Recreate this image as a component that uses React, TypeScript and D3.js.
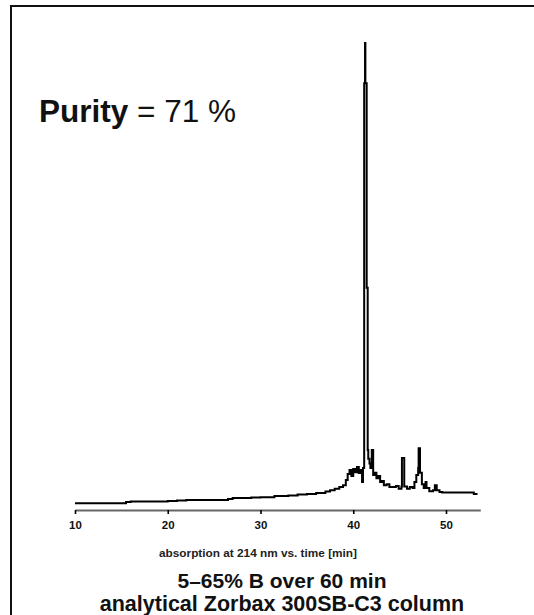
import React, { useEffect, useRef } from "react";
import * as d3 from "d3";

// Retention time (min) and absorbance (arbitrary units)
const times: number[] = [
  10.0, 11.0, 15.5, 16.0, 20.0, 21.0, 22.0, 24.0, 26.5, 27.0, 29.0, 30.0, 31.5, 33.0, 34.0, 35.0,
  36.0, 37.0, 37.5, 38.0, 38.5, 38.9, 39.2, 39.4, 39.6, 39.8, 40.0, 40.2, 40.4, 40.6, 40.8, 40.95,
  41.05, 41.18, 41.27, 41.31, 41.45, 41.56, 41.62, 41.75, 41.85, 42.0, 42.1, 42.15, 42.3,
  42.5, 42.7, 42.9, 43.1, 43.3, 43.6, 43.9, 44.3, 44.6, 44.9, 45.2, 45.25, 45.45, 45.5, 45.8, 46.1,
  46.4, 46.6, 46.8, 47.0, 47.05, 47.2, 47.4, 47.6, 47.8, 47.9, 48.2, 48.6, 48.8, 49.0, 49.3, 49.6,
  53.0, 53.4,
];
const absorbance: number[] = [
  4, 4, 6.5, 7.6, 8.7, 9.7, 10.8, 11, 13, 15, 16, 17, 19.5, 20.5, 22.7, 24,
  26, 29, 32, 35, 39, 43, 54, 67, 76, 63, 78, 71, 82, 69, 76, 50,
  80, 913, 1000, 913, 470, 119, 100, 90, 80, 119, 119, 65, 70,
  58, 63, 50, 52, 43, 45, 39, 39, 41, 35, 40, 102, 102, 40, 35, 39,
  37, 50, 65, 80, 123, 70, 45, 37, 50, 37, 30, 32, 43, 32, 28, 27,
  24, 24,
];
const tickValues: number[] = [10, 20, 30, 40, 50];

const purityLabel = "Purity";
const purityValue = " = 71 %";
const axisTitle = "absorption at 214 nm vs. time [min]";
const titleLine1 = "5–65% B over 60 min";
const titleLine2 = "analytical Zorbax 300SB-C3 column";

const W = 534;
const H = 615;

export default function App() {
  const axisRef = useRef<SVGGElement>(null);

  const x = d3.scaleLinear().domain([10, 53.7]).range([75, 480.3]);
  const y = d3.scaleLinear().domain([0, 1000]).range([505, 43]);

  const data = times.map((t, i) => [t, absorbance[i]] as [number, number]);
  const line = d3
    .line<[number, number]>()
    .x((d) => x(d[0]))
    .y((d) => y(d[1]))
    .curve(d3.curveStepAfter);

  useEffect(() => {
    if (!axisRef.current) return;
    const g = d3.select(axisRef.current);
    g.selectAll("*").remove();
    const axis = d3
      .axisBottom(x)
      .tickValues(tickValues)
      .tickSize(4)
      .tickSizeOuter(0)
      .tickPadding(7)
      .tickFormat(d3.format("d"));
    g.call(axis as any);
    g.select(".domain").attr("stroke", "#666").attr("stroke-width", 2);
    g.selectAll(".tick line").attr("stroke", "#000").attr("stroke-width", 1.6);
    g.selectAll(".tick text")
      .attr("font-family", "'Liberation Sans', Arial, sans-serif")
      .attr("font-weight", "bold")
      .attr("font-size", 11.5)
      .attr("fill", "#111");
  }, []);

  const font = "'Liberation Sans', Arial, Helvetica, sans-serif";

  return (
    <svg
      width={W}
      height={H}
      style={{ position: "absolute", left: 0, top: 0, background: "#fff" }}
    >
      <rect x={11} y={6} width={W + 20} height={H + 20} fill="#fff" stroke="#111" strokeWidth={2} />
      <text x={39} y={122} fontFamily={font} fontSize={31.5} fill="#111">
        <tspan fontWeight="bold">{purityLabel}</tspan>
        <tspan>{purityValue}</tspan>
      </text>
      <path d={line(data) || ""} fill="none" stroke="#000" strokeWidth={2} strokeLinejoin="miter" />
      <g ref={axisRef} transform="translate(0,510)" />
      <text x={258} y={557} textAnchor="middle" fontFamily={font} fontWeight="bold" fontSize={11.8} fill="#222">
        {axisTitle}
      </text>
      <text x={282} y={588} textAnchor="middle" fontFamily={font} fontWeight="bold" fontSize={21} fill="#111">
        {titleLine1}
      </text>
      <text x={282} y={611} textAnchor="middle" fontFamily={font} fontWeight="bold" fontSize={21.5} fill="#111">
        {titleLine2}
      </text>
    </svg>
  );
}
